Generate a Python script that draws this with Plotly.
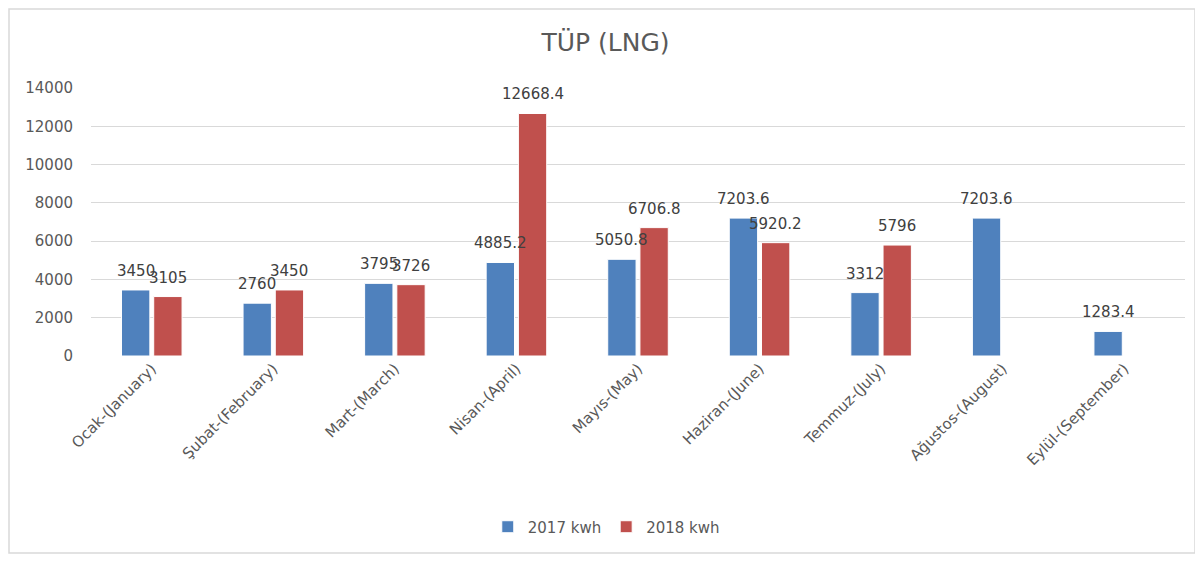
import plotly.graph_objects as go

categories = ["Ocak-(January)", "Şubat-(February)", "Mart-(March)", "Nisan-(April)",
              "Mayıs-(May)", "Haziran-(June)", "Temmuz-(July)", "Ağustos-(August)",
              "Eylül-(September)"]
values_2017 = [3450, 2760, 3795, 4885.2, 5050.8, 7203.6, 3312, 7203.6, 1283.4]
values_2018 = [3105, 3450, 3726, 12668.4, 6706.8, 5920.2, 5796, None, None]
y_ticks = [0, 2000, 4000, 6000, 8000, 10000, 12000, 14000]

FONT = "DejaVu Sans"
TXT = "#595959"
LBL = "#404040"

W, H = 1195, 553
L, R, T, B = 83, 18, 80, 205
BARGAP = 0.47
plot_w = W - L - R
plot_h = H - T - B
slot = plot_w / len(categories) * (1 - BARGAP) / 2

fig = go.Figure()
fig.add_trace(go.Bar(name="2017 kwh", x=categories, y=values_2017,
                     marker=dict(color="#4f81bd", line=dict(color="#ffffff", width=1))))
fig.add_trace(go.Bar(name="2018 kwh", x=categories, y=values_2018,
                     marker=dict(color="#c0504d", line=dict(color="#ffffff", width=1))))

# data labels drawn above all bars (as in the reference, labels overlap neighbouring bars)
for vals, shift in ((values_2017, -slot / 2), (values_2018, slot / 2)):
    for cat, v in zip(categories, vals):
        if v is None:
            continue
        fig.add_annotation(x=cat, y=v, xref="x", yref="y", text=f"{v:g}",
                           showarrow=False, xanchor="center", yanchor="bottom",
                           xshift=shift, yshift=8,
                           font=dict(family=FONT, size=15, color=LBL))

fig.update_layout(
    width=W, height=H,
    margin=dict(l=L, r=R, t=T, b=B),
    paper_bgcolor="white", plot_bgcolor="white",
    barmode="group", bargap=BARGAP, bargroupgap=0.12,
    title=dict(text="TÜP (LNG)", x=0.5, xanchor="center", y=1 - 34 / H, yanchor="middle",
               font=dict(family=FONT, size=25, color=TXT)),
    font=dict(family=FONT, size=15, color=TXT),
    showlegend=True,
    legend=dict(orientation="h", x=0.471, xanchor="center", y=-0.638, yanchor="middle",
                font=dict(family=FONT, size=15, color=TXT), itemwidth=30,
                traceorder="normal"),
    xaxis=dict(tickangle=-45, showgrid=False, showline=False, zeroline=False,
               tickfont=dict(family=FONT, size=15, color=TXT)),
    yaxis=dict(range=[0, 14000], tickvals=y_ticks, tickformat="d",
               showgrid=True, gridcolor="#d9d9d9", gridwidth=1, zeroline=False,
               showline=False, ticklabelstandoff=17,
               tickfont=dict(family=FONT, size=15, color=TXT)),
)

# outer chart frame (in figure pixels, converted to paper fractions)
fx0, fx1, fy0, fy1 = 1, W - 8, 1, H - 8
fig.add_shape(type="rect", xref="paper", yref="paper",
              x0=(fx0 - L) / plot_w, x1=(fx1 - L) / plot_w,
              y0=(H - B - fy1) / plot_h, y1=(H - B - fy0) / plot_h,
              line=dict(color="#d9d9d9", width=1.5), layer="below")

fig.write_html("out.html")
